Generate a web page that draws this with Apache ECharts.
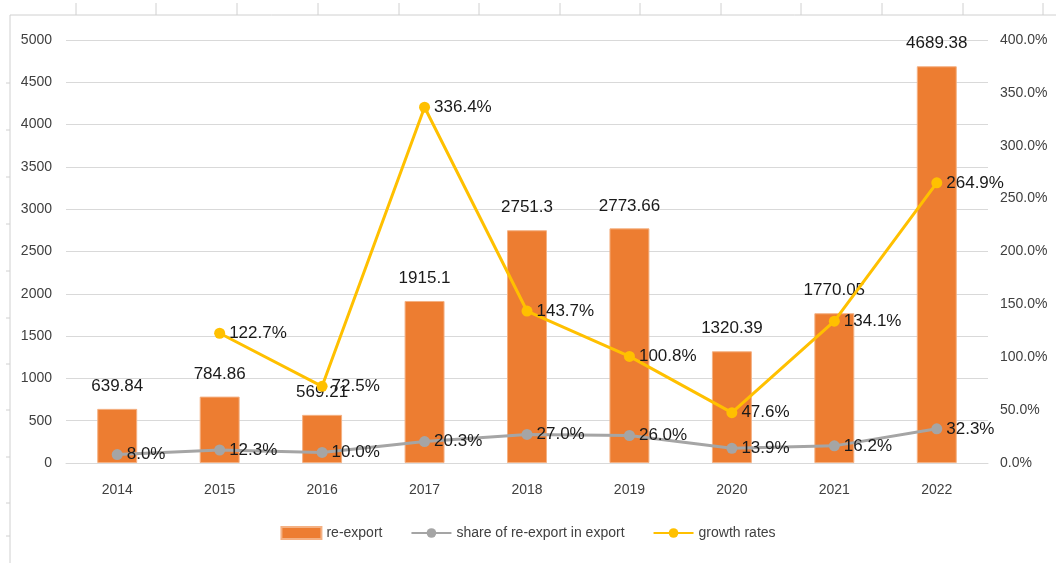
<!DOCTYPE html>
<html>
<head>
<meta charset="utf-8">
<script src="https://cdn.jsdelivr.net/npm/echarts@6/dist/echarts.min.js"></script>
<style>
html, body { margin: 0; padding: 0; background: #fff; }
#chart { width: 1056px; height: 563px; }
</style>
</head>
<body>
<div id="chart"></div>
<script>
'use strict';
var years = ['2014', '2015', '2016', '2017', '2018', '2019', '2020', '2021', '2022'];
var reExport = [639.84, 784.86, 569.21, 1915.1, 2751.3, 2773.66, 1320.39, 1770.05, 4689.38];
var shareData = [8.0, 12.3, 10.0, 20.3, 27.0, 26.0, 13.9, 16.2, 32.3];
var growthData = [null, 122.7, 72.5, 336.4, 143.7, 100.8, 47.6, 134.1, 264.9];

var fontName = '"Liberation Sans Narrow", "Liberation Sans", sans-serif';

// spreadsheet frame around the chart
var frame = [];
frame.push({ type: 'line', shape: { x1: 10, y1: 15, x2: 1056, y2: 15 }, style: { stroke: '#d0d0d0', lineWidth: 1 } });
frame.push({ type: 'line', shape: { x1: 10, y1: 15, x2: 10, y2: 563 }, style: { stroke: '#d0d0d0', lineWidth: 1 } });
var colTicks = [76, 156, 237, 318, 399, 479, 560, 640, 721, 801, 882, 963, 1043];
colTicks.forEach(function (x) {
	frame.push({ type: 'line', shape: { x1: x, y1: 3, x2: x, y2: 15 }, style: { stroke: '#d0d0d0', lineWidth: 1 } });
});
var rowTicks = [83, 130, 177, 224, 271, 318, 364, 410, 457, 503, 536];
rowTicks.forEach(function (y) {
	frame.push({ type: 'line', shape: { x1: 6, y1: y, x2: 10, y2: y }, style: { stroke: '#d0d0d0', lineWidth: 1 } });
});

var option = {
	backgroundColor: '#fff',
	textStyle: { fontFamily: fontName },
	graphic: frame,
	grid: {
		left: 66,
		right: 68,
		top: 40,
		bottom: 100
	},
	legend: {
		bottom: 18,
		left: 'center',
		itemGap: 28,
		itemWidth: 40,
		itemHeight: 12,
		textStyle: { fontSize: 14, color: '#404040', fontFamily: fontName },
		data: [
			{ name: 're-export', icon: 'rect' },
			{ name: 'share of re-export in export' },
			{ name: 'growth rates' }
		]
	},
	xAxis: [{
		type: 'category',
		data: years,
		axisLine: { lineStyle: { color: '#d9d9d9' } },
		axisTick: { show: false },
		axisLabel: { fontSize: 14, color: '#404040', margin: 20 }
	}],
	yAxis: [{
		type: 'value',
		min: 0,
		max: 5000,
		interval: 500,
		axisLine: { show: false },
		axisTick: { show: false },
		splitLine: { lineStyle: { color: '#d9d9d9', width: 1 } },
		axisLabel: {
			fontSize: 14,
			color: '#404040',
			margin: 14,
			formatter: function (v) { return String(v); }
		}
	}, {
		type: 'value',
		min: 0,
		max: 400,
		interval: 50,
		axisLine: { show: false },
		axisTick: { show: false },
		splitLine: { show: false },
		axisLabel: {
			fontSize: 14,
			color: '#404040',
			margin: 12,
			formatter: function (v) { return v.toFixed(1) + '%'; }
		}
	}],
	series: [{
		name: 're-export',
		type: 'bar',
		data: reExport,
		barWidth: '39%',
		itemStyle: { color: '#ED7D31', borderColor: '#F4B183', borderWidth: 1 },
		label: {
			show: true,
			position: 'top',
			distance: 14,
			fontSize: 17,
			color: '#1a1a1a'
		},
		z: 2
	}, {
		name: 'share of re-export in export',
		type: 'line',
		yAxisIndex: 1,
		data: shareData,
		symbol: 'circle',
		symbolSize: 11,
		lineStyle: { color: '#A5A5A5', width: 3 },
		itemStyle: { color: '#A5A5A5' },
		label: {
			show: true,
			position: 'right',
			distance: 4,
			fontSize: 17,
			color: '#1a1a1a',
			formatter: function (p) { return p.value.toFixed(1) + '%'; }
		},
		z: 3
	}, {
		name: 'growth rates',
		type: 'line',
		yAxisIndex: 1,
		data: growthData,
		symbol: 'circle',
		symbolSize: 11,
		lineStyle: { color: '#FFC000', width: 3 },
		itemStyle: { color: '#FFC000' },
		label: {
			show: true,
			position: 'right',
			distance: 4,
			fontSize: 17,
			color: '#1a1a1a',
			formatter: function (p) { return p.value.toFixed(1) + '%'; }
		},
		z: 4
	}]
};

var myChart = echarts.init(document.getElementById('chart'));
myChart.setOption(option);
</script>
</body>
</html>
